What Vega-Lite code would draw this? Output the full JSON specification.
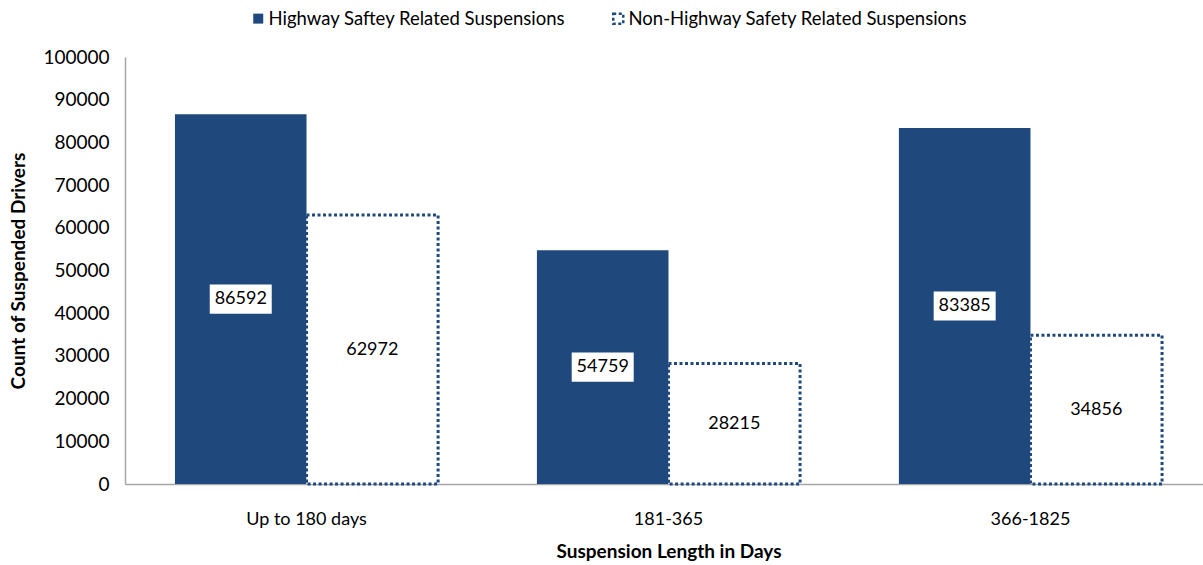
{
  "$schema": "https://vega.github.io/schema/vega-lite/v6.json",
  "width": 1078,
  "height": 427,
  "autosize": {"type": "none"},
  "padding": {"left": 125, "top": 57, "right": 0, "bottom": 81},
  "background": "white",
  "config": {
    "font": "Lato",
    "view": {"stroke": null},
    "axis": {"labelFont": "Lato", "titleFont": "Lato", "labelColor": "#000000", "titleColor": "#000000"},
    "legend": {
      "title": null,
      "orient": "none",
      "direction": "horizontal",
      "legendX": 124,
      "legendY": -48,
      "symbolType": "square",
      "symbolSize": 100,
      "symbolStrokeWidth": 2.5,
      "labelFontSize": 18.5,
      "labelFont": "Lato",
      "labelColor": "#000000",
      "labelOffset": 1,
      "columnPadding": 42,
      "labelLimit": 400
    }
  },
  "data": {
    "values": [
      {"category": "Up to  180 days", "series": "Highway Saftey Related Suspensions", "value": 86592},
      {"category": "Up to  180 days", "series": "Non-Highway Safety Related Suspensions", "value": 62972},
      {"category": "181-365", "series": "Highway Saftey Related Suspensions", "value": 54759},
      {"category": "181-365", "series": "Non-Highway Safety Related Suspensions", "value": 28215},
      {"category": "366-1825", "series": "Highway Saftey Related Suspensions", "value": 83385},
      {"category": "366-1825", "series": "Non-Highway Safety Related Suspensions", "value": 34856}
    ]
  },
  "encoding": {
    "x": {
      "field": "category",
      "type": "nominal",
      "sort": null,
      "scale": {"paddingInner": 0.273, "paddingOuter": 0.138, "range": [0, 1087]},
      "axis": {
        "title": "Suspension Length in Days",
        "titleFontSize": 19,
        "titleFontWeight": "bold",
        "titlePadding": 14,
        "labelFontSize": 18,
        "labelAngle": 0,
        "labelPadding": 26,
        "ticks": false,
        "domainColor": "#A6A6A6",
        "domainWidth": 1.5
      }
    },
    "xOffset": {
      "field": "series",
      "type": "nominal",
      "sort": ["Highway Saftey Related Suspensions", "Non-Highway Safety Related Suspensions"],
      "scale": {"paddingInner": 0, "paddingOuter": 0}
    }
  },
  "layer": [
    {
      "mark": {"type": "bar", "strokeWidth": 3},
      "encoding": {
        "y": {
          "field": "value",
          "type": "quantitative",
          "scale": {"domain": [0, 100000], "nice": false},
          "axis": {
            "title": "Count of Suspended Drivers",
            "titleFontSize": 19,
            "titleFontWeight": "bold",
            "titlePadding": 14,
            "labelFontSize": 19,
            "labelPadding": 16,
            "values": [0, 10000, 20000, 30000, 40000, 50000, 60000, 70000, 80000, 90000, 100000],
            "format": "d",
            "grid": false,
            "ticks": false,
            "domainColor": "#A6A6A6",
            "domainWidth": 1.5
          }
        },
        "fill": {
          "field": "series",
          "type": "nominal",
          "scale": {
            "domain": ["Highway Saftey Related Suspensions", "Non-Highway Safety Related Suspensions"],
            "range": ["#1F497D", "#FFFFFF"]
          }
        },
        "stroke": {
          "field": "series",
          "type": "nominal",
          "scale": {
            "domain": ["Highway Saftey Related Suspensions", "Non-Highway Safety Related Suspensions"],
            "range": ["rgba(0,0,0,0)", "#1F497D"]
          }
        },
        "strokeDash": {
          "field": "series",
          "type": "nominal",
          "scale": {
            "domain": ["Highway Saftey Related Suspensions", "Non-Highway Safety Related Suspensions"],
            "range": [[1, 0], [3, 2.5]]
          }
        }
      }
    },
    {
      "mark": {"type": "point", "shape": "M-1,-0.47H1V0.47H-1Z", "filled": true, "fill": "#FFFFFF", "opacity": 1, "strokeWidth": 0, "size": 3844},
      "encoding": {
        "y": {"field": "value", "type": "quantitative", "scale": {"domain": [0, 200000], "nice": false}, "axis": null}
      }
    },
    {
      "mark": {"type": "text", "fontSize": 18, "font": "Lato", "color": "#000000", "baseline": "middle", "align": "center"},
      "encoding": {
        "y": {"field": "value", "type": "quantitative", "scale": {"domain": [0, 200000], "nice": false}, "axis": null},
        "text": {"field": "value", "type": "quantitative", "format": "d"}
      }
    }
  ],
  "resolve": {"scale": {"y": "independent"}}
}
